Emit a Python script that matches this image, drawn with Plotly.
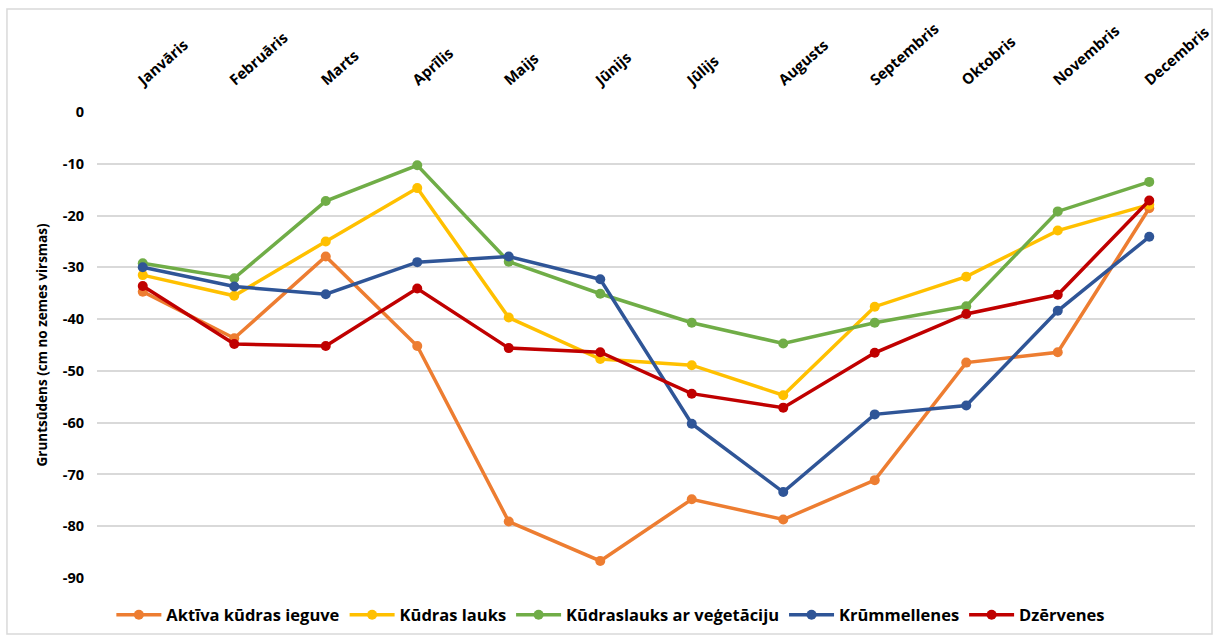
import plotly.graph_objects as go

months = ["Janvāris", "Februāris", "Marts", "Aprīlis", "Maijs", "Jūnijs",
          "Jūlijs", "Augusts", "Septembris", "Oktobris", "Novembris", "Decembris"]

aktiva = [-34.7, -43.7, -27.9, -45.2, -79.1, -86.7, -74.8, -78.7, -71.1, -48.4, -46.4, -18.6]
kudras_lauks = [-31.5, -35.5, -25.0, -14.7, -39.7, -47.7, -48.9, -54.7, -37.6, -31.8, -22.9, -17.9]
veg = [-29.2, -32.1, -17.2, -10.3, -28.9, -35.1, -40.7, -44.7, -40.7, -37.5, -19.2, -13.5]
krummellenes = [-30.0, -33.7, -35.2, -29.0, -27.9, -32.3, -60.2, -73.4, -58.4, -56.7, -38.4, -24.1]
dzervenes = [-33.6, -44.8, -45.2, -34.1, -45.6, -46.4, -54.4, -57.1, -46.5, -39.0, -35.3, -17.1]

y_ticks = [0, -10, -20, -30, -40, -50, -60, -70, -80, -90]
y_ticktext = ["0", "-10", "-20", "-30", "-40", "-50", "-60", "-70", "-80", "-90"]

series = [
    ("Aktīva kūdras ieguve", aktiva, "#ED7D31"),
    ("Kūdras lauks", kudras_lauks, "#FFC000"),
    ("Kūdraslauks ar veģetāciju", veg, "#70AD47"),
    ("Krūmmellenes", krummellenes, "#2F5597"),
    ("Dzērvenes", dzervenes, "#C00000"),
]

FONT = "Open Sans, Noto Sans, sans-serif"

fig = go.Figure()
for name, vals, color in series:
    fig.add_trace(go.Scatter(
        x=months, y=vals, name=name, mode="lines+markers",
        line=dict(color=color, width=3.5),
        marker=dict(color=color, size=10),
    ))

fig.update_layout(
    width=1226, height=637,
    margin=dict(l=97, r=31, t=112, b=59, autoexpand=False),
    paper_bgcolor="white", plot_bgcolor="white",
    font=dict(family=FONT, color="black", size=13),
    showlegend=True,
    legend=dict(orientation="h", x=0.468, xanchor="center", y=-0.042, yanchor="top",
                font=dict(family=FONT, size=16.5, color="black", weight="bold"),
                bgcolor="rgba(0,0,0,0)",
                itemwidth=45, traceorder="normal"),
    xaxis=dict(side="top", tickangle=-41, showgrid=False, showline=False,
               ticks="", automargin=False,
               ticklabelstandoff=20, ticklabelshift=-4,
               tickfont=dict(family=FONT, size=15, color="black", weight="bold"),
               range=[-0.5, 11.5]),
    yaxis=dict(range=[-90, 0], tickvals=y_ticks, ticktext=y_ticktext,
               showgrid=True, gridcolor="#D9D9D9", gridwidth=1.5,
               zeroline=False, showline=False, ticks="", automargin=False,
               ticklabelstandoff=12,
               tickfont=dict(family=FONT, size=14.5, color="black", weight="bold"),
               title=dict(text="Gruntsūdens (cm no zemes virsmas)",
                          font=dict(family=FONT, size=13.5, color="black", weight="bold"),
                          standoff=12)),
    shapes=[dict(type="rect", xref="paper", yref="paper",
                 x0=-0.0820, x1=1.0155, y0=-0.12, y1=1.221,
                 line=dict(color="#D9D9D9", width=1.5), fillcolor="rgba(0,0,0,0)",
                 layer="below")],
)

fig.write_html("out.html", config={"displayModeBar": False},
               post_script="document.body.style.margin='0';")
